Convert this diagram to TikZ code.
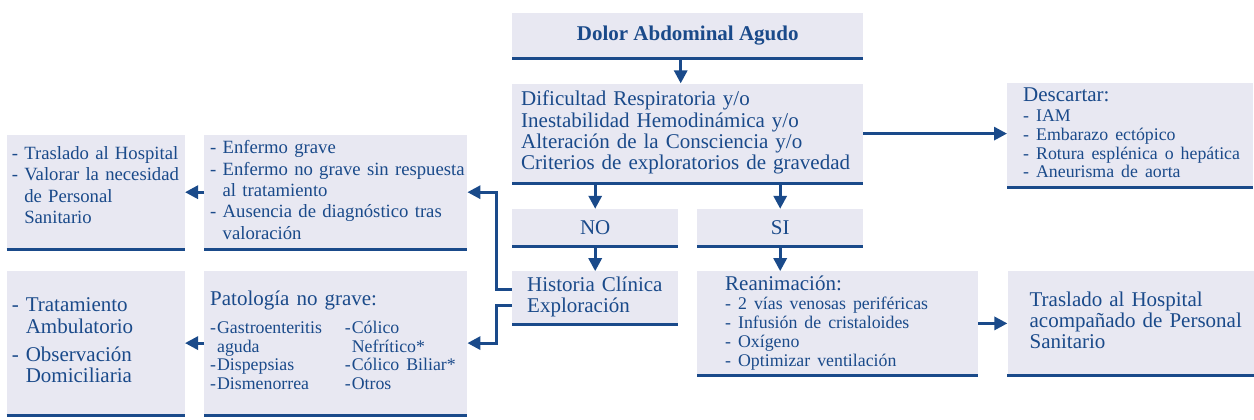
\documentclass[tikz,border=0pt]{standalone}
\usepackage{fontspec}
\setmainfont{Liberation Serif}
\usepackage{tikz}
\usetikzlibrary{positioning, arrows.meta}

\definecolor{navy}{RGB}{26,74,138}
\definecolor{boxfill}{RGB}{232,232,242}
\newcommand{\grande}{\fontsize{21}{21.3}\selectfont}
\newcommand{\media}{\fontsize{18.7}{21.3}\selectfont}
\newcommand{\chica}{\fontsize{17.8}{18.8}\selectfont}
\newcommand{\lineas}[1]{\begin{tabular}{@{}l@{}}#1\end{tabular}}
\newcommand{\sangria}{\phantom{- }}

\begin{document}
\begin{tikzpicture}[x=1pt, y=-1pt,
    caja/.style={fill=boxfill, text=navy, font=\grande, inner xsep=0pt, inner ysep=0pt, anchor=north west},
    margen/.style 2 args={inner xsep=#1pt, text width=#2pt, align=left},
    raya/.style={draw=navy, line width=3pt},
    flecha/.style={draw=navy, line width=3pt, -{Triangle[length=13pt, width=13pt]}}]

  \useasboundingbox (0,0) rectangle (1254,420);

  % central column
  \node[caja, minimum width=351pt, minimum height=45pt, font=\grande\bfseries] (dolor) at (512,13) {Dolor Abdominal Agudo};
  \node[caja, margen={9}{333}, minimum height=100pt, below=25pt of dolor.south west, anchor=north west] (criterios)
    {\lineas{Dificultad Respiratoria y/o\\ Inestabilidad Hemodinámica y/o\\ Alteración de la Consciencia y/o\\ Criterios de exploratorios de gravedad}};
  \node[caja, minimum width=166pt, minimum height=37pt, below=25pt of criterios.south west, anchor=north west] (no) {NO};
  \node[caja, minimum width=166pt, minimum height=37pt, below=25pt of criterios.south east, anchor=north east] (si) {SI};
  \node[caja, margen={15}{136}, minimum height=53pt, below=25pt of no.south west, anchor=north west] (historia)
    {\lineas{Historia Clínica\\ Exploración}};
  \node[caja, margen={28}{225}, minimum height=104pt, below=25pt of si.south west, anchor=north west] (reanim)
    {\lineas{Reanimación:\\ {\chica\lineas{- 2 vías venosas periféricas\\ - Infusión de cristaloides\\ - Oxígeno\\ - Optimizar ventilación}}}};

  % right column
  \node[caja, margen={22}{202}, minimum height=104pt, right=29pt of reanim.north east, anchor=north west] (acomp)
    {\lineas{Traslado al Hospital\\ acompañado de Personal\\ Sanitario}};
  \node[caja, margen={16}{214}, minimum height=104pt] (descartar) at (1007,83)
    {\lineas{Descartar:\\ {\chica\lineas{- IAM\\ - Embarazo ectópico\\ - Rotura esplénica o hepática\\ - Aneurisma de aorta}}}};

  % left columns
  \node[caja, margen={6}{251}, minimum height=114pt, font=\media] (enfermo) at (204,135)
    {\lineas{- Enfermo grave\\ - Enfermo no grave sin respuesta\\ \sangria al tratamiento\\ - Ausencia de diagnóstico tras\\ \sangria valoración}};
  \node[caja, margen={5}{168}, minimum height=114pt, font=\media, left=19pt of enfermo.north west, anchor=north east] (traslado)
    {\lineas{- Traslado al Hospital\\ - Valorar la necesidad\\ \sangria de Personal\\ \sangria Sanitario\\[10pt]}};
  \node[caja, margen={6}{251}, minimum height=145pt, below=21pt of enfermo.south west, anchor=north west] (patologia)
    {\lineas{Patología no grave:\\[8pt]
      {\chica\begin{tabular}{@{}l@{\hspace{1pt}}l@{\hspace{23pt}}l@{\hspace{1pt}}l@{}}
        - & Gastroenteritis & - & Cólico\\
          & aguda & & Nefrítico*\\
        - & Dispepsias & - & Cólico Biliar*\\
        - & Dismenorrea & - & Otros
      \end{tabular}}}};
  \node[caja, margen={5}{168}, minimum height=145pt, left=19pt of patologia.north west, anchor=north east] (tratamiento)
    {\lineas{- Tratamiento\\ \sangria Ambulatorio\\[7pt] - Observación\\ \sangria Domiciliaria}};

  % bottom rules
  \foreach \n in {dolor, criterios, no, si, historia, reanim, acomp, descartar, enfermo, traslado, patologia, tratamiento}
    \draw[raya] (\n.south west) -- (\n.south east);

  % arrows
  \draw[flecha] ([xshift=-7pt]dolor.south) -- ([xshift=-7pt]criterios.north);
  \draw[flecha] (criterios.south -| no.north) -- (no.north);
  \draw[flecha] (criterios.south -| si.north) -- (si.north);
  \draw[flecha] (no) -- (historia);
  \draw[flecha] (si.south) -- (si.south |- reanim.north);
  \draw[flecha] (reanim) -- (acomp);
  \draw[flecha] (criterios.east) -- (criterios.east -| descartar.west);
  \draw[flecha] ([yshift=8pt]historia.west) -- ++(-16,0) |- (enfermo.east);
  \draw[flecha] ([yshift=-8pt]historia.west) -- ++(-16,0) |- (patologia.east);
  \draw[flecha] (enfermo) -- (traslado);
  \draw[flecha] (patologia) -- (tratamiento);
\end{tikzpicture}
\end{document}
